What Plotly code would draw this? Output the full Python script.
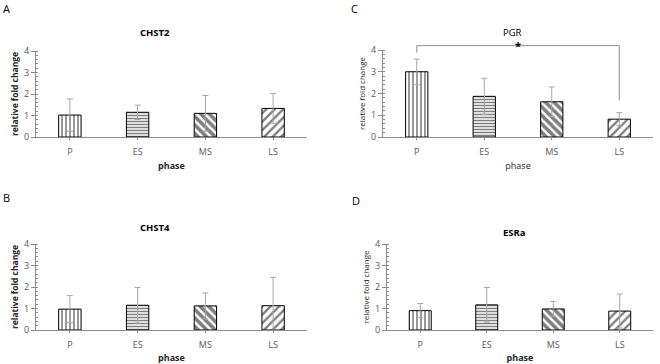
import plotly.graph_objects as go

phases = ["P", "ES", "MS", "LS"]
chst2 = [1.02, 1.15, 1.10, 1.33]
chst2_err = [0.75, 0.33, 0.83, 0.69]
chst4 = [0.97, 1.15, 1.12, 1.13]
chst4_err = [0.63, 0.83, 0.60, 1.32]
pgr = [3.0, 1.87, 1.62, 0.82]
pgr_err = [0.58, 0.83, 0.68, 0.30]
esra = [0.90, 1.17, 0.98, 0.88]
esra_err = [0.33, 0.81, 0.35, 0.79]

shapes_pat = ["|", "-", "\\", "/"]
solid = [0.4, 0.5, 0.6, 0.4]
psize = [4, 3, 6, 6]

FONT = "Open Sans"
W, H = 660, 364
fig = go.Figure()

panels = [
    ("x", "y", chst2, chst2_err),
    ("x2", "y2", pgr, pgr_err),
    ("x3", "y3", chst4, chst4_err),
    ("x4", "y4", esra, esra_err),
]
for xa, ya, vals, errs in panels:
    fig.add_trace(go.Bar(
        x=phases, y=vals, xaxis=xa, yaxis=ya, width=0.33,
        marker=dict(color="white", line=dict(color="black", width=1),
                    pattern=dict(shape=shapes_pat, fgcolor="black", bgcolor="white",
                                 solidity=solid, size=psize)),
        error_y=dict(type="data", array=errs, visible=True, color="#a6a6a6",
                     thickness=1, width=3),
        showlegend=False, hoverinfo="skip"))

def yax(domain, bold, anchor):
    return dict(domain=domain, anchor=anchor, automargin=False, range=[0, 4], dtick=1,
                showline=True, linecolor="#8c8c8c",
                linewidth=1, ticks="outside", ticklen=4, tickcolor="#8c8c8c",
                minor=dict(dtick=0.2, ticks="inside", ticklen=2, tickcolor="#8c8c8c"),
                showgrid=False, zeroline=False,
                tickfont=dict(family=FONT, size=9, color="#595959"),
                title=dict(text=("<b>relative fold change</b>" if bold else "relative fold change"),
                           font=dict(family=FONT, size=(8.5 if bold else 8), color="#262626"),
                           standoff=4))

def xax(domain, bold, anchor):
    return dict(domain=domain, anchor=anchor, automargin=False, showline=True,
                linecolor="#8c8c8c", linewidth=1,
                ticks="outside", ticklen=2, tickcolor="#8c8c8c", showgrid=False,
                ticklabelstandoff=4,
                tickfont=dict(family=FONT, size=9, color="#595959"),
                title=dict(text=("<b>phase</b>" if bold else "phase"),
                           font=dict(family=FONT, size=9, color="#262626"), standoff=5))

def py(p):
    return 1 - p / H

def px(p):
    return p / W

top = [py(137), py(51)]
topc = [py(137), py(50)]
bot = [py(330), py(244)]
fig.update_layout(
    width=W, height=H, margin=dict(l=0, r=0, t=0, b=0, autoexpand=False),
    plot_bgcolor="white", paper_bgcolor="white",
    xaxis=xax([px(36), px(307)], True, "y"), yaxis=yax(top, True, "x"),
    xaxis2=xax([px(383), px(653)], False, "y2"), yaxis2=yax(topc, False, "x2"),
    xaxis3=xax([px(36), px(307)], True, "y3"), yaxis3=yax(bot, True, "x3"),
    xaxis4=xax([px(387), px(653)], True, "y4"), yaxis4=yax(bot, False, "x4"),
)

# bracket for significance in PGR panel
bk = dict(color="#8c8c8c", width=1)
fig.add_shape(type="line", xref="x2", yref="y2 domain", x0="P", x1="LS", y0=1.05, y1=1.05, line=bk)
fig.add_shape(type="line", xref="x2", yref="y2 domain", x0="P", x1="P", y0=1.05, y1=0.97, line=bk)
fig.add_shape(type="line", xref="x2", yref="y2 domain", x0="LS", x1="LS", y0=1.05, y1=0.42, line=bk)

ann = []
def txt(x, y, t, size=10, bold=False):
    ann.append(dict(x=px(x), y=py(y), xref="paper", yref="paper",
                    xanchor="center", yanchor="middle",
                    text=(f"<b>{t}</b>" if bold else t),
                    showarrow=False, font=dict(family=FONT, size=size, color="black")))

txt(6, 8, "A", 11)
txt(354, 8, "C", 11)
txt(6, 198, "B", 11)
txt(356, 200, "D", 11)
txt(155, 32, "CHST2", 9.5, True)
txt(155, 227, "CHST4", 9.5, True)
txt(512, 32, "PGR", 9.5, False)
txt(514, 233, "ESRa", 9.5, True)
txt(518, 45, "*", 11, True)
fig.update_layout(annotations=ann)

fig.write_html("out.html", config={"displayModeBar": False},
               post_script="document.body.style.margin='0px';")
